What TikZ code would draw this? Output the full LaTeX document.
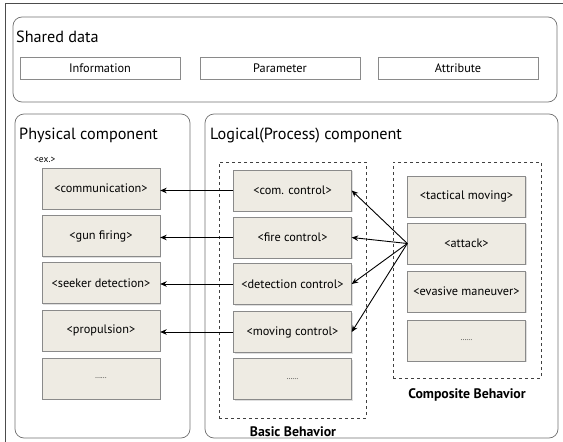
\documentclass[tikz,border=0pt]{standalone}
\usepackage{fontspec}
\setmainfont{PT Sans}
\usetikzlibrary{arrows.meta,shadows,fit}
\definecolor{boxfill}{HTML}{EEEBE3}
\definecolor{boxline}{HTML}{8A8A8A}
\definecolor{frameline}{HTML}{707070}
\begin{document}
\begin{tikzpicture}[x=1pt,y=-1pt,
  panel/.style={draw=frameline,rounded corners=9pt,line width=0.7pt},
  title/.style={anchor=base west,font=\fontsize{16.2}{18}\selectfont,inner sep=0pt},
  databox/.style={draw=boxline,fill=white,minimum width=160pt,minimum height=22pt,inner sep=0pt,
    font=\fontsize{12.3}{14}\selectfont,drop shadow={shadow xshift=1.2pt,shadow yshift=-1.2pt,fill=black!30}},
  itembox/.style={draw=boxline,fill=boxfill,minimum width=118pt,minimum height=41pt,inner sep=0pt,
    font=\fontsize{12.3}{14}\selectfont,drop shadow={shadow xshift=1.2pt,shadow yshift=-1.2pt,fill=black!25}},
  dots/.style={font=\fontsize{7}{8}\selectfont},
  groupbox/.style={draw=black!75,dashed,line width=0.8pt,inner sep=0pt},
  grouplabel/.style={font=\bfseries\fontsize{13.8}{15}\selectfont,inner sep=0pt},
  link/.style={-{Stealth[length=6.5pt,width=5.5pt]},line width=0.9pt,black}]
\useasboundingbox (0,0) rectangle (563,442);

% outer frame edges
\draw[black!70,line width=0.7pt] (5,442) -- (5,3) -- (563,3);

% shared data panel
\draw[panel] (13,17) rectangle (557,102);
\node[title] (sdtitle) at (16,42) {Shared data};
\node[databox] (info)  at (100,68) {Information};
\node[databox] (param) at (280,68) {Parameter};
\node[databox] (attr)  at (458,68) {Attribute};

% physical component panel
\draw[panel] (15,114) rectangle (190,438);
\node[title] (phtitle) at (19,139) {Physical component};
\node[anchor=base west,inner sep=0pt,font=\fontsize{9.5}{11}\selectfont] (ex) at (34,162) {<ex.>};
\node[itembox] (p1) at (101,188.5) {<communication>};
\node[itembox] (p2) at (101,236) {<gun firing>};
\node[itembox] (p3) at (101,283) {<seeker detection>};
\node[itembox] (p4) at (101,330.5) {<propulsion>};
\node[itembox] (p5) at (101,378.5) {\hbox{\fontsize{7}{8}\selectfont ......}};

% logical component panel
\draw[panel] (205,114) rectangle (558,438);
\node[title] (lgtitle) at (210,139) {Logical(Process) component};

% basic behaviors
\node[itembox] (b1) at (292.5,190.5) {<com. control>};
\node[itembox] (b2) at (292.5,237.5) {<fire control>};
\node[itembox] (b3) at (292.5,284) {<detection control>};
\node[itembox] (b4) at (292.5,332) {<moving control>};
\node[itembox] (b5) at (292.5,379) {\hbox{\fontsize{7}{8}\selectfont ......}};
\coordinate (bnw) at (219,162);
\coordinate (bse) at (366,418);
\node[groupbox,fit=(bnw)(bse)] (basic) {};
\node[grouplabel] (basiclbl) at (293,432) {Basic Behavior};

% composite behaviors
\node[itembox] (c1) at (466.5,196.5) {<tactical moving>};
\node[itembox] (c2) at (466.5,243.5) {<attack>};
\node[itembox] (c3) at (466.5,291.5) {<evasive maneuver>};
\node[itembox] (c4) at (466.5,340.5) {\hbox{\fontsize{7}{8}\selectfont ......}};
\coordinate (cnw) at (393,162);
\coordinate (cse) at (541,378);
\node[groupbox,fit=(cnw)(cse)] (composite) {};
\node[grouplabel] (complbl) at (467,395) {Composite Behavior};

% basic behavior -> physical component
\draw[link] (b1.west) -- (p1.east |- b1.west);
\draw[link] (b2.west) -- (p2.east |- b2.west);
\draw[link] (b3.west) -- (p3.east |- b3.west);
\draw[link] (b4.west) -- (p4.east |- b4.west);

% composite behavior -> basic behaviors
\draw[link] (c2.west) -- (b1.east);
\draw[link] (c2.west) -- (b2.east);
\draw[link] (c2.west) -- (b3.east);
\draw[link] (c2.west) -- (b4.east);
\end{tikzpicture}
\end{document}
